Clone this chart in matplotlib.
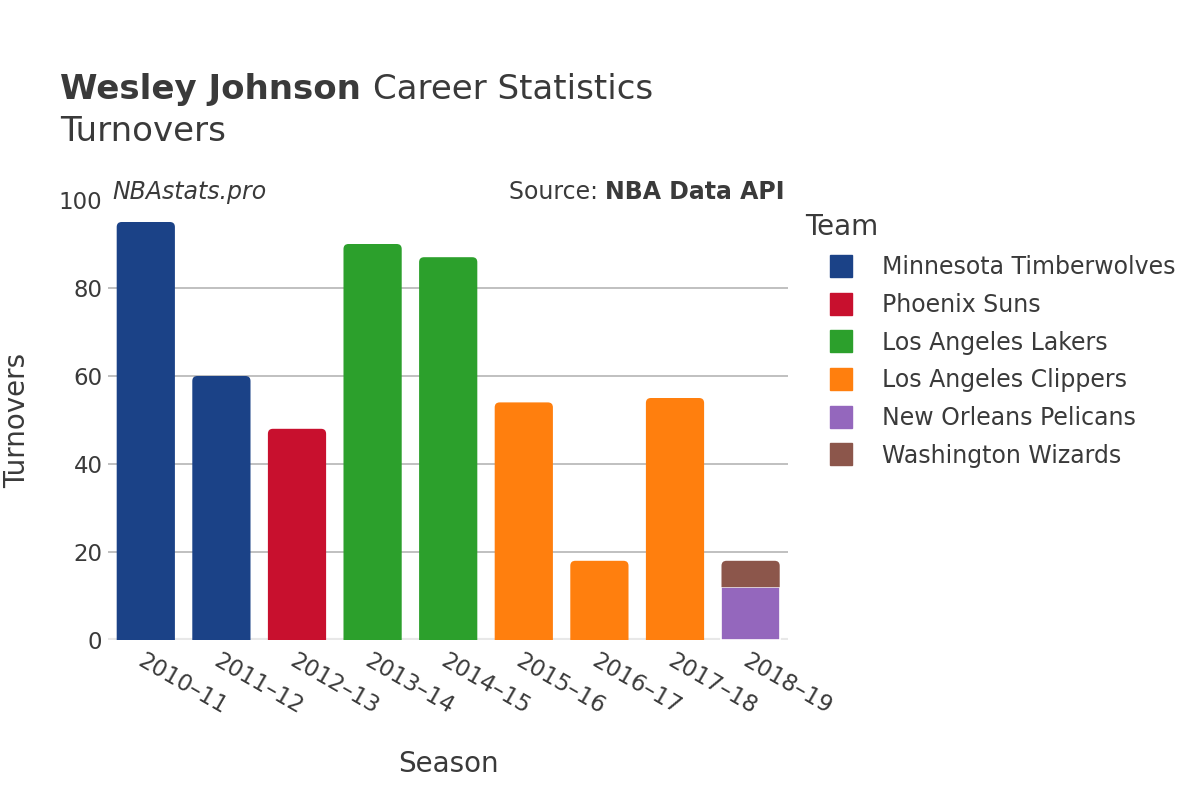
import numpy as np
import matplotlib.pyplot as plt
from matplotlib.lines import Line2D
from matplotlib.patches import PathPatch, Rectangle
from matplotlib.path import Path

# data
seasons = ['2010–11', '2011–12', '2012–13', '2013–14', '2014–15',
           '2015–16', '2016–17', '2017–18', '2018–19']
teams = ['Minnesota Timberwolves', 'Phoenix Suns', 'Los Angeles Lakers',
         'Los Angeles Clippers', 'New Orleans Pelicans', 'Washington Wizards']
team_colors = ['#1b4287', '#c8102e', '#2ca02c', '#ff7f0e', '#9467bd', '#8c564b']
turnovers = {
    'Minnesota Timberwolves': [95, 60, 0, 0, 0, 0, 0, 0, 0],
    'Phoenix Suns':           [0, 0, 48, 0, 0, 0, 0, 0, 0],
    'Los Angeles Lakers':     [0, 0, 0, 90, 87, 0, 0, 0, 0],
    'Los Angeles Clippers':   [0, 0, 0, 0, 0, 54, 18, 55, 0],
    'New Orleans Pelicans':   [0, 0, 0, 0, 0, 0, 0, 0, 12],
    'Washington Wizards':     [0, 0, 0, 0, 0, 0, 0, 0, 6],
}
yticks = [0, 20, 40, 60, 80, 100]

txt = '#3a3a3a'
plt.rcParams['font.family'] = ['DejaVu Sans']

fig = plt.figure(figsize=(12, 8), dpi=100)
ax = fig.add_axes([0.09, 0.2, 0.567, 0.55])

x = np.arange(len(seasons))
bw = 0.77
totals = np.sum([turnovers[t] for t in teams], axis=0)
# corner radius of 5 px in data units
rx = 5 / (0.567 * 1200 / len(seasons))
ry = 5 / (0.55 * 800 / 100)


def top_rounded(xc, b, t):
    x0, x1 = xc - bw / 2, xc + bw / 2
    verts = [(x0, b), (x1, b), (x1, t - ry), (x1, t), (x1 - rx, t),
             (x0 + rx, t), (x0, t), (x0, t - ry), (x0, b)]
    codes = [Path.MOVETO, Path.LINETO, Path.LINETO, Path.CURVE3, Path.CURVE3,
             Path.LINETO, Path.CURVE3, Path.CURVE3, Path.CLOSEPOLY]
    return Path(verts, codes)


bottom = np.zeros(len(seasons))
for team, col in zip(teams, team_colors):
    vals = np.array(turnovers[team], dtype=float)
    for i in range(len(seasons)):
        if vals[i] <= 0:
            continue
        top = bottom[i] + vals[i]
        if top >= totals[i]:
            ax.add_patch(PathPatch(top_rounded(x[i], bottom[i], top), facecolor=col,
                                   edgecolor='none', zorder=3))
        else:
            ax.add_patch(Rectangle((x[i] - bw / 2, bottom[i]), bw, vals[i], facecolor=col,
                                   edgecolor='white', linewidth=1.2, zorder=3))
    bottom += vals

ax.set_xlim(-0.5, len(seasons) - 0.5)
ax.set_ylim(yticks[0], yticks[-1])
ax.set_yticks(yticks)
# gridlines (none at the very top)
for yv in yticks[1:-1]:
    ax.axhline(yv, color='#bbbbbb', linewidth=1.3, zorder=0)
ax.axhline(0, color='#e8e8e8', linewidth=3, zorder=2)
for s in ax.spines.values():
    s.set_visible(False)
ax.tick_params(axis='both', length=0, labelsize=16.5, labelcolor=txt)
ax.tick_params(axis='y', pad=4)
ax.set_xticks(x)
ax.set_xticklabels(seasons, rotation=-30, ha='left', rotation_mode='anchor')
ax.tick_params(axis='x', pad=7)

ax.set_xlabel('Season', fontsize=20, color=txt, labelpad=22)
ax.set_ylabel('Turnovers', fontsize=20, color=txt, va='center')
ax.yaxis.set_label_coords(-0.134, 0.5)

fig.canvas.draw()
rend = fig.canvas.get_renderer()


def text_row(x0, y0, parts, size, ha='left'):
    items = []
    xx = x0
    for s, kw in parts:
        t = fig.text(xx, y0, s, fontsize=size, color=txt, va='center', **kw)
        bb = t.get_window_extent(rend)
        xx += bb.width / fig.bbox.width
        items.append(t)
    if ha == 'right':
        shift = xx - x0
        for t in items:
            px, py = t.get_position()
            t.set_position((px - shift, py))


text_row(0.05, 0.888, [('Wesley Johnson ', dict(fontweight='bold')),
                       ('Career Statistics', {})], 24.5)
fig.text(0.05, 0.836, 'Turnovers', fontsize=24.5, color=txt, va='center')

fig.text(0.094, 0.76, 'NBAstats.pro', fontsize=17, style='italic', color=txt, va='center')
text_row(0.654, 0.76, [('Source: ', {}), ('NBA Data API', dict(fontweight='bold'))],
         17, ha='right')

handles = [Line2D([0], [0], marker='s', linestyle='', markersize=16,
                  markerfacecolor=c, markeredgecolor=c) for c in team_colors]
leg = fig.legend(handles, teams, loc='upper left', bbox_to_anchor=(0.663, 0.745),
                 frameon=False, fontsize=17, title='Team', title_fontsize=20,
                 labelspacing=0.58, handletextpad=0.2, borderaxespad=0,
                 handlelength=3.05)
leg._legend_box.align = 'left'
for t in leg.get_texts():
    t.set_color(txt)
leg.get_title().set_color(txt)

fig.savefig('out.png', dpi=100)
